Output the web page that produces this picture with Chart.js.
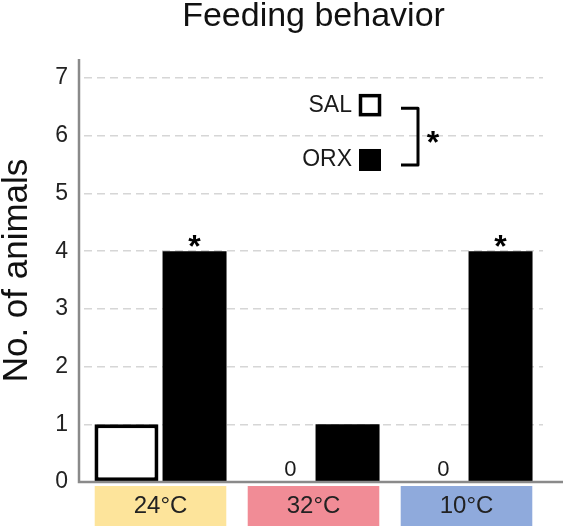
<!DOCTYPE html>
<html>
<head>
<meta charset="utf-8">
<script src="https://cdn.jsdelivr.net/npm/chart.js@4"></script>
<style>
  html, body { margin: 0; padding: 0; background: #fff; }
  #wrap { width: 567px; height: 530px; }
</style>
</head>
<body>
<div id="wrap"><canvas id="graphique"></canvas></div>
<script>
// Données
const categories = ['24°C', '32°C', '10°C'];
const couleursCategories = ['#fde49b', '#f18c96', '#8faadc'];
const valeursSAL = [1, 0, 0];
const valeursORX = [4, 1, 4];
const significatif = [true, false, true]; // astérisque au-dessus de ORX
const graduationsY = [0, 1, 2, 3, 4, 5, 6, 7];

const POLICE = "'Liberation Sans', Arial, sans-serif";

// Plugin : fonds colorés des catégories, axes, annotations et légende
const annotations = {
    id: 'annotations',
    beforeDraw(chart) {
        const ctx = chart.ctx;
        const x = chart.scales.x;
        const y = chart.scales.y;
        const largeur = (x.getPixelForValue(1) - x.getPixelForValue(0)) * 0.86;
        const y0 = y.getPixelForValue(0);
        ctx.save();
        categories.forEach((c, i) => {
            const cx = x.getPixelForValue(i);
            ctx.fillStyle = couleursCategories[i];
            ctx.fillRect(cx - largeur / 2, y0 + 4, largeur, 40);
        });
        ctx.restore();
    },
    afterDraw(chart) {
        const ctx = chart.ctx;
        const area = chart.chartArea;
        const y = chart.scales.y;
        const y0 = y.getPixelForValue(0);
        ctx.save();

        // axes
        ctx.strokeStyle = '#8a8a8a';
        ctx.lineWidth = 2.5;
        ctx.beginPath();
        ctx.moveTo(area.left - 5, area.top);
        ctx.lineTo(area.left - 5, y0);
        ctx.lineTo(area.right + 20, y0);
        ctx.stroke();

        const metaSAL = chart.getDatasetMeta(0);
        const metaORX = chart.getDatasetMeta(1);

        // "0" au-dessus des barres SAL nulles
        ctx.fillStyle = '#1a1a1a';
        ctx.font = '22px ' + POLICE;
        ctx.textAlign = 'center';
        ctx.textBaseline = 'middle';
        valeursSAL.forEach((v, i) => {
            if (v === 0) {
                const b = metaSAL.data[i];
                ctx.fillText('0', b.x + 11, b.y - 12);
            }
        });

        // astérisques
        ctx.fillStyle = '#000';
        ctx.font = 'bold 32px ' + POLICE;
        ctx.textBaseline = 'alphabetic';
        significatif.forEach((s, i) => {
            if (s) {
                const b = metaORX.data[i];
                ctx.fillText('*', b.x, b.y + 6);
            }
        });

        // légende
        const ySAL = y.getPixelForValue(6.53);
        const yORX = y.getPixelForValue(5.58);
        const xCarre = 370;
        ctx.fillStyle = '#1a1a1a';
        ctx.font = '23px ' + POLICE;
        ctx.textAlign = 'right';
        ctx.textBaseline = 'middle';
        ctx.fillText('SAL', 352, ySAL);
        ctx.fillText('ORX', 352, yORX);
        ctx.lineWidth = 3.5;
        ctx.strokeStyle = '#000';
        ctx.strokeRect(xCarre - 9.5, ySAL - 9.5, 19, 19);
        ctx.fillStyle = '#000';
        ctx.fillRect(xCarre - 11, yORX - 11, 22, 22);

        // crochet + astérisque
        ctx.lineWidth = 3;
        ctx.lineJoin = 'round';
        ctx.beginPath();
        ctx.moveTo(401, ySAL + 3);
        ctx.lineTo(418, ySAL + 3);
        ctx.lineTo(418, yORX + 5);
        ctx.lineTo(401, yORX + 5);
        ctx.stroke();
        ctx.font = 'bold 32px ' + POLICE;
        ctx.textAlign = 'center';
        ctx.textBaseline = 'alphabetic';
        ctx.fillText('*', 433, (ySAL + yORX) / 2 + 20);

        ctx.restore();
    }
};

const ctx = document.getElementById('graphique').getContext('2d');
new Chart(ctx, {
    type: 'bar',
    data: {
        labels: categories,
        datasets: [{
            label: 'SAL',
            data: valeursSAL,
            backgroundColor: '#ffffff',
            borderColor: '#000000',
            borderWidth: c => (c.raw === 0 ? 0 : 4),
            borderSkipped: false,
            barPercentage: 0.94,
            categoryPercentage: 0.89
        }, {
            label: 'ORX',
            data: valeursORX,
            backgroundColor: '#000000',
            borderWidth: 0,
            barPercentage: 0.94,
            categoryPercentage: 0.89
        }]
    },
    options: {
        responsive: true,
        maintainAspectRatio: false,
        animation: false,
        layout: { padding: { left: 0, right: 24, top: 0, bottom: 0 } },
        plugins: {
            legend: { display: false },
            tooltip: { enabled: false },
            title: {
                display: true,
                text: 'Feeding behavior',
                fullSize: false,
                color: '#111',
                font: { family: POLICE, size: 34, weight: 'normal', lineHeight: 1 },
                padding: { top: 0, bottom: 25 }
            }
        },
        scales: {
            x: {
                grid: { display: false, drawTicks: false },
                border: { display: false },
                ticks: {
                    color: '#222',
                    font: { family: POLICE, size: 24, lineHeight: 1 },
                    padding: 12
                }
            },
            y: {
                min: 0,
                max: 7.33,
                afterBuildTicks: s => {
                    s.ticks = graduationsY.map(v => ({ value: v }));
                },
                afterFit: s => { s.width = 84; },
                border: { display: false, dash: [8, 5] },
                grid: {
                    drawTicks: false,
                    color: c => (c.tick && c.tick.value === 0 ? 'rgba(0,0,0,0)' : '#d6d6d6'),
                    lineWidth: 1.5
                },
                ticks: {
                    color: '#222',
                    font: { family: POLICE, size: 23 },
                    padding: 16
                },
                title: {
                    display: true,
                    text: 'No. of animals',
                    color: '#111',
                    font: { family: POLICE, size: 35, lineHeight: 1 },
                    padding: { top: 0, bottom: 0 }
                }
            }
        }
    },
    plugins: [annotations]
});
</script>
</body>
</html>
